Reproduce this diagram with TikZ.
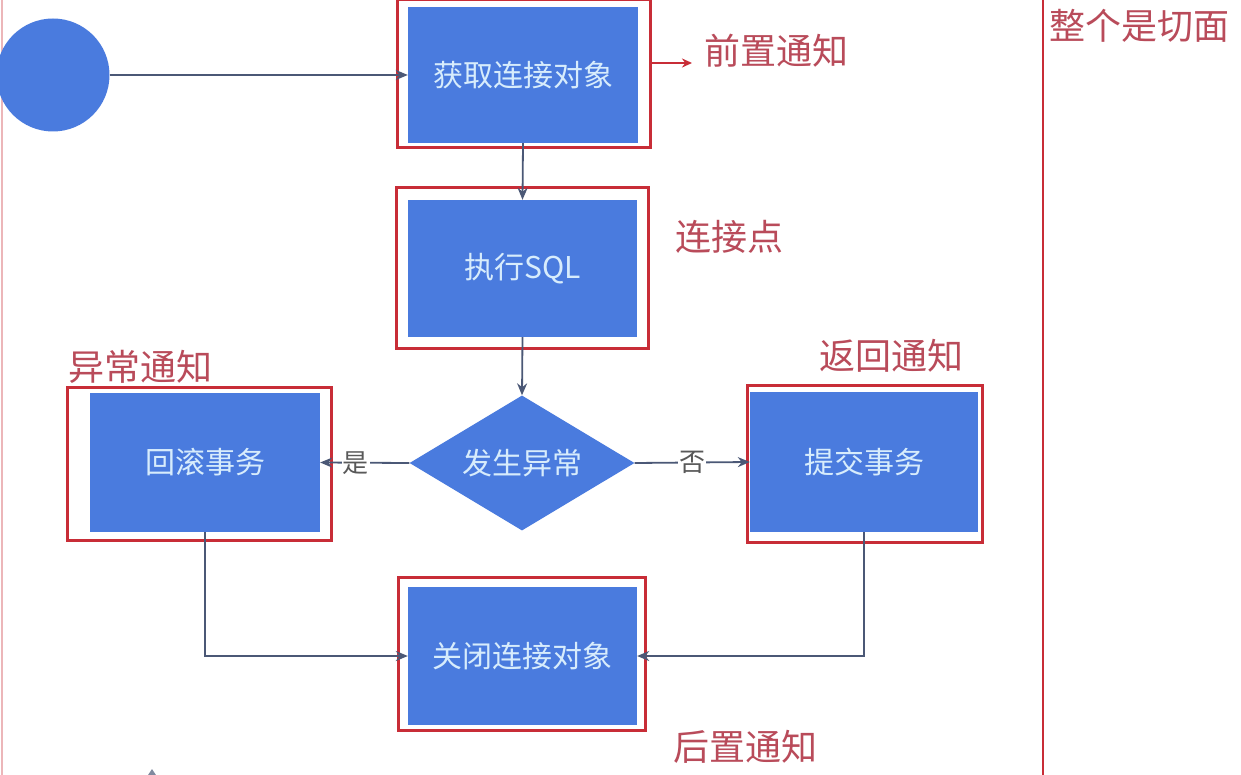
\documentclass[tikz,border=0pt]{standalone}
\usepackage{fontspec}
\newfontfamily\cjk{Noto Sans CJK SC}
\usetikzlibrary{shapes.geometric,arrows.meta}
\definecolor{boxblue}{RGB}{74,123,222}
\definecolor{frame}{RGB}{200,45,55}
\definecolor{lbl}{RGB}{185,75,90}
\definecolor{boxtxt}{RGB}{215,236,252}
\definecolor{conn}{RGB}{75,88,118}
\tikzset{
  bluebox/.style={draw=none,fill=boxblue,inner sep=0pt,font=\cjk\fontsize{30}{32}\selectfont,text=boxtxt},
  redframe/.style={draw=frame,line width=3pt,inner sep=0pt},
  note/.style={font=\cjk\fontsize{36}{38}\selectfont,text=lbl,inner sep=0pt},
  flow/.style={draw=conn,line width=1.8pt,-{Stealth[length=12pt,width=10pt]}},
  yesno/.style={font=\cjk\fontsize{26}{28}\selectfont,text=black!65,fill=white,inner sep=1pt}
}
\begin{document}
\begin{tikzpicture}[x=1pt,y=-1pt]
\useasboundingbox (0,0) rectangle (1241,775);
\fill[white] (0,0) rectangle (1241,775);
% side lines
\draw[frame!35,line width=1.5pt] (2,0) -- (2,775);
\draw[frame,line width=2.5pt] (1043,0) -- (1043,775);
% start circle
\node[circle,fill=boxblue,minimum size=113pt,inner sep=0pt] (start) at (53,75) {};
% red frames
\node[redframe,minimum width=253pt,minimum height=148pt] (r1) at (523.5,74) {};
\node[redframe,minimum width=252pt,minimum height=160pt] (r2) at (522.5,268) {};
\node[redframe,minimum width=264pt,minimum height=153pt] (r3) at (199,463.5) {};
\node[redframe,minimum width=235pt,minimum height=157pt] (r4) at (864.5,463.5) {};
\node[redframe,minimum width=247pt,minimum height=153pt] (r5) at (521.5,653.5) {};
% blue boxes
\node[bluebox,minimum width=230pt,minimum height=136pt] (b1) at (523,75) {获取连接对象};
\node[bluebox,minimum width=229pt,minimum height=137pt] (b2) at (522.5,268.5) {执行SQL};
\node[bluebox,minimum width=230pt,minimum height=139pt] (b3) at (205,462.5) {回滚事务};
\node[bluebox,minimum width=228pt,minimum height=140pt] (b4) at (864,462) {提交事务};
\node[bluebox,minimum width=229pt,minimum height=138pt] (b5) at (522.5,656) {关闭连接对象};
\node[bluebox,diamond,aspect=1.67,minimum width=225pt,minimum height=135pt] (d) at (522,463) {发生异常};
% connectors
\draw[flow] (start.east) -- (b1.west);
\draw[flow] (b1.south) -- (b2.north);
\draw[flow] (b2.south) -- (d.north);
\draw[flow] (d.west) -- node[yesno,pos=0.6] (yes) {是} (b3.east);
\draw[flow] (d.east) -- node[yesno,pos=0.5] (no) {否} (b4.west);
\draw[flow] (b3.south) |- (b5.west);
\draw[flow] (b4.south) |- (b5.east);
% red pointer
\coordinate (pre) at (692,63);
\draw[frame,line width=2.5pt,-{Stealth[length=10pt,width=9pt]}] (r1.east |- pre) -- (pre);
% notes
\node[note,anchor=west] (n1) at (704,51) {前置通知};
\node[note,anchor=west] (n2) at (675,237) {连接点};
\node[note,anchor=west] (n3) at (68,367) {异常通知};
\node[note,anchor=west] (n4) at (819,356) {返回通知};
\node[note,anchor=west] (n5) at (673,747) {后置通知};
\node[note,anchor=west] (n6) at (1049,26) {整个是切面};
% cut-off arrow tip at bottom
\fill[conn!70] (152,769) -- (148,775) -- (156,775) -- cycle;
\end{tikzpicture}
\end{document}
